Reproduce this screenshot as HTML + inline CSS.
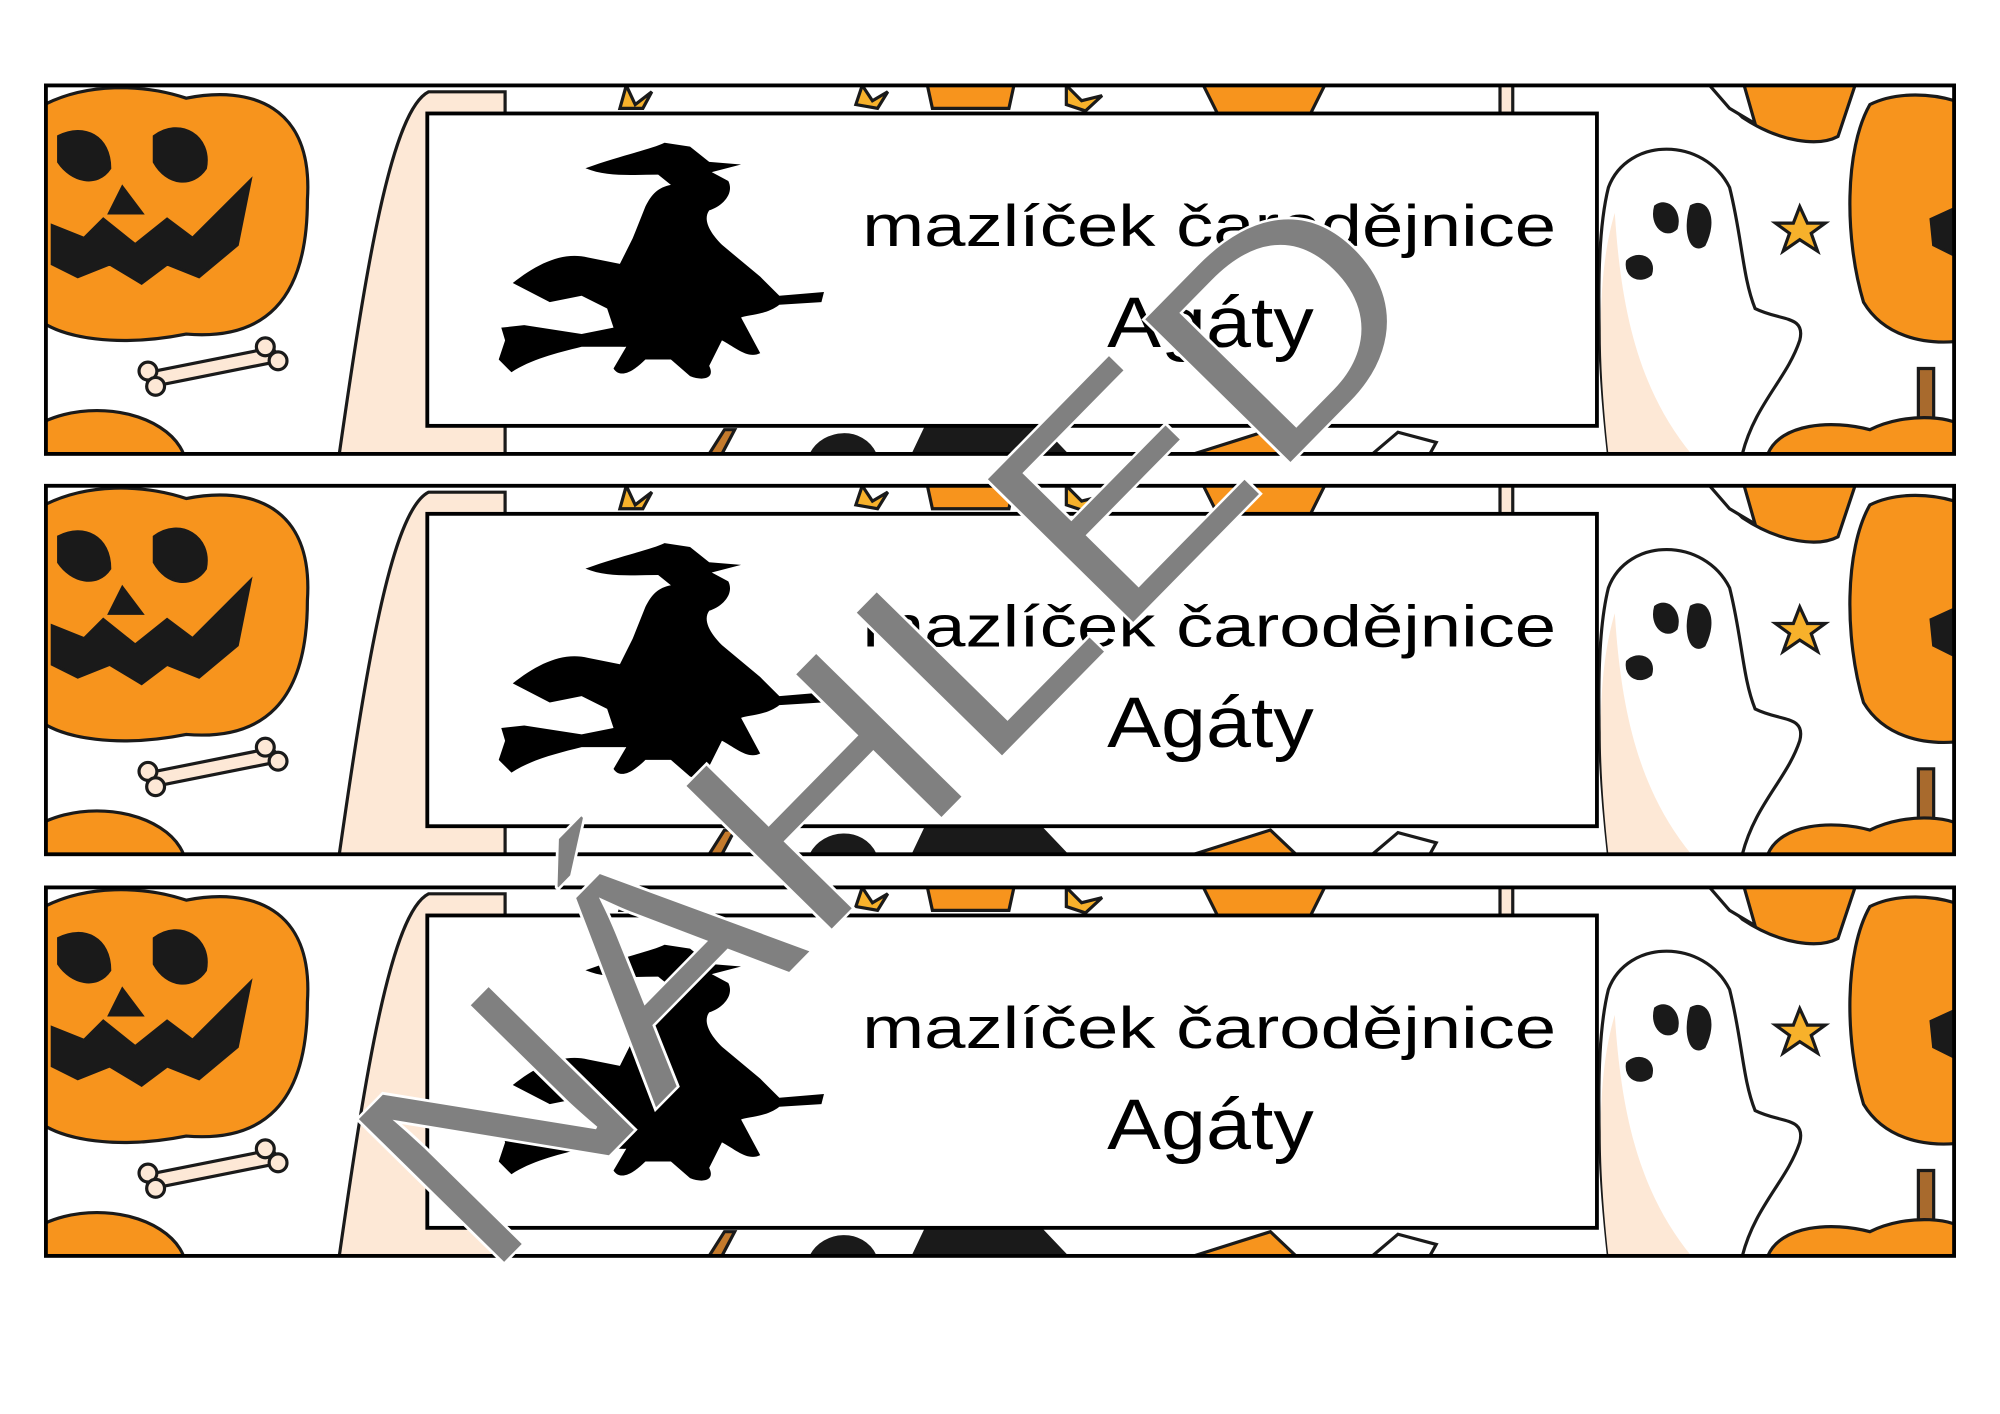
<!DOCTYPE html>
<html><head><meta charset="utf-8"><style>html,body{margin:0;padding:0;background:#fff}svg{display:block}</style></head>
<body>
<svg width="2000" height="1414" viewBox="0 0 1568 1109" preserveAspectRatio="none" xmlns="http://www.w3.org/2000/svg">
<defs>
<clipPath id="cl"><rect x="0" y="0" width="1496" height="289"/></clipPath>
<symbol id="deco" viewBox="0 0 1496 289" width="1496" height="289" overflow="visible">
<g clip-path="url(#cl)" stroke="#1a1a1a" stroke-width="2.5">
<rect x="0" y="0" width="1496" height="289" fill="#fff" stroke="none"/>
<path d="M230 289 C250 150 270 20 300 5 L360 5 L360 289 Z" fill="#fde8d6"/>
<path d="M-10 20 C30 -5 80 0 110 10 C160 0 210 15 205 90 C205 170 170 200 110 195 C60 205 10 200 -10 180 Z" fill="#f7941d"/>
<path d="M10 40 C30 30 50 40 50 65 C40 80 20 75 10 60Z M85 40 C105 25 130 40 125 65 C115 80 95 78 85 60Z M60 80 L75 100 L50 100Z M5 110 L30 120 L45 105 L70 125 L95 105 L115 120 L160 75 L150 125 L120 150 L95 140 L75 155 L50 140 L25 150 L5 140Z" fill="#1a1a1a"/>
<ellipse cx="40" cy="300" rx="70" ry="45" fill="#f7941d"/>
<path d="M85 230 L175 212" stroke="#1a1a1a" stroke-width="14" stroke-linecap="round"/>
<path d="M85 230 L175 212" stroke="#fde8d6" stroke-width="9" stroke-linecap="round"/>
<circle cx="80" cy="224" r="7" fill="#fde8d6"/><circle cx="86" cy="236" r="7" fill="#fde8d6"/>
<circle cx="172" cy="205" r="7" fill="#fde8d6"/><circle cx="182" cy="216" r="7" fill="#fde8d6"/>
<path d="M455 0 L462 15 L475 5 L468 18 L450 18Z" fill="#f7b12b"/>
<path d="M640 0 L648 12 L660 5 L652 18 L635 15Z" fill="#f7b12b"/>
<path d="M690 -5 L760 -5 L755 18 L695 18Z" fill="#f7941d"/>
<path d="M800 0 L812 12 L828 8 L815 20 L800 15Z" fill="#f7b12b"/>
<path d="M905 -5 L1005 -5 L990 25 L920 25Z" fill="#f7941d"/>
<path d="M1140 0 L1150 0 L1150 40 L1140 40Z" fill="#fde8d6"/>
<path d="M520 289 L532 270 L540 270 L530 289Z" fill="#c47a2c"/>
<path d="M600 289 C610 270 640 268 650 289Z" fill="#1a1a1a"/>
<path d="M680 289 L690 268 L780 268 L800 289Z" fill="#1a1a1a"/>
<path d="M900 289 L960 270 L980 289Z" fill="#f7941d"/>
<path d="M1040 289 L1060 272 L1090 280 L1085 289Z" fill="#fff"/>
<path d="M1300 -5 L1420 -5 L1405 40 C1390 48 1360 45 1330 25Z" fill="#f7941d"/>
<path d="M1300 -5 L1330 -5 L1340 30 L1320 18Z" fill="#fff"/>
<path d="M1225 289 C1215 200 1215 120 1225 80 C1240 40 1300 40 1320 80 C1330 120 1330 150 1340 175 C1360 185 1380 180 1375 200 C1365 230 1340 250 1330 289Z" fill="#fff"/>
<path d="M1225 289 C1215 200 1218 140 1230 100 C1235 180 1250 240 1290 289Z" fill="#fde8d6" stroke="none"/>
<path d="M1262 95 C1272 88 1282 100 1278 112 C1270 120 1258 110 1262 95Z M1290 95 C1302 88 1310 105 1300 125 C1290 132 1284 115 1290 95Z M1240 138 C1248 130 1262 135 1258 148 C1250 155 1238 150 1240 138Z" fill="#1a1a1a"/>
<path d="M1375 95 L1381 108 L1395 108 L1384 116 L1389 130 L1375 121 L1362 130 L1367 116 L1356 108 L1370 108Z" fill="#f7b12b"/>
<path d="M1430 15 C1450 5 1480 5 1505 15 L1505 200 C1470 205 1440 195 1425 170 C1410 120 1410 50 1430 15Z" fill="#f7941d"/>
<path d="M1478 105 L1500 95 L1500 135 L1480 125Z" fill="#1a1a1a"/>
<path d="M1468 222 L1480 222 L1480 270 L1468 270Z" fill="#a86a2d"/>
<path d="M1350 289 C1360 265 1400 262 1430 270 C1460 255 1500 260 1505 270 L1505 289Z" fill="#f7941d"/>
</g>
<rect x="0" y="0" width="1496" height="289" fill="none" stroke="#000" stroke-width="3"/>
<rect x="299" y="22" width="917" height="245" fill="#fff" stroke="#000" stroke-width="3"/>
<g fill="#000">
<path d="M423 65 C450 55 475 50 485 45 L505 48 L520 60 L545 62 L522 68 L535 75 C540 85 530 95 520 98 C515 105 520 115 530 125 L560 150 L575 165 L610 162 L608 170 L575 172 C565 180 550 180 545 182 L560 210 C550 215 540 205 530 200 L520 220 C525 230 515 232 505 228 L490 215 L470 215 C460 225 450 230 445 222 L455 205 L420 205 C400 210 380 215 365 225 L355 215 L360 200 L357 190 L375 188 L420 195 L445 190 L440 175 L420 165 L395 170 L366 155 C385 140 405 130 425 135 L450 140 L460 120 L470 95 C475 85 480 80 490 78 L480 70 C460 70 440 72 423 65Z"/>
<path d="M360 192 L452 200 L454 205 L360 200Z"/>
</g>
</symbol>
</defs>
<rect width="1568" height="1109" fill="#fff"/>
<g font-family="Liberation Sans, sans-serif" fill="#000">
<use href="#deco" x="36" y="67"/>
<text x="676" y="193" font-size="46" textLength="544" lengthAdjust="spacingAndGlyphs">mazlíček čarodějnice</text>
<text x="868" y="272" font-size="56" textLength="162" lengthAdjust="spacingAndGlyphs">Agáty</text>
<use href="#deco" x="36" y="381"/>
<text x="676" y="507" font-size="46" textLength="544" lengthAdjust="spacingAndGlyphs">mazlíček čarodějnice</text>
<text x="868" y="586" font-size="56" textLength="162" lengthAdjust="spacingAndGlyphs">Agáty</text>
<use href="#deco" x="36" y="696"/>
<text x="676" y="822" font-size="46" textLength="544" lengthAdjust="spacingAndGlyphs">mazlíček čarodějnice</text>
<text x="868" y="901" font-size="56" textLength="162" lengthAdjust="spacingAndGlyphs">Agáty</text>
</g>
<text x="0" y="0" transform="translate(755,625) rotate(-45.5)" text-anchor="middle" font-family="Liberation Sans, sans-serif" font-size="235" fill="#808080" stroke="#fff" stroke-width="2" textLength="1070" lengthAdjust="spacingAndGlyphs">NÁHLED</text>
</svg>
</body></html>
